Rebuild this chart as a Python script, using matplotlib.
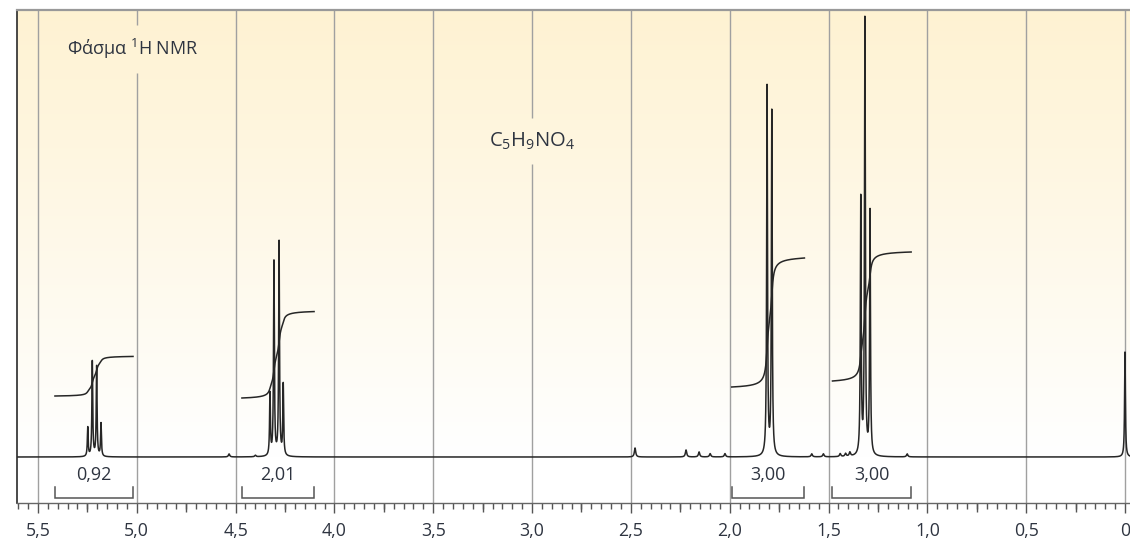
import numpy as np
import matplotlib
matplotlib.use("Agg")
import matplotlib.pyplot as plt
from matplotlib.ticker import MultipleLocator, FixedLocator, NullFormatter

# ---------------- data ----------------
# main resonances: chemical shift (ppm) and peak height (display units)
peak_ppm = [5.248, 5.225, 5.203, 5.181,
            4.326, 4.306, 4.280, 4.259,
            1.811, 1.787,
            1.337, 1.316, 1.290,
            0.000]
peak_height = [29, 95, 90, 33,
               62, 194, 214, 71,
               369, 344,
               256, 435, 244,
               105]
# small impurity / noise peaks
minor_ppm = [4.533, 4.40, 2.479, 2.221, 2.155, 2.099, 2.024,
             1.585, 1.526, 1.441, 1.414, 1.392, 1.102]
minor_height = [3, 1.5, 9, 7, 5, 3.3, 3.3, 3, 3, 3, 3, 4, 3]

integ_values = [0.92, 2.01, 3.00, 3.00]
integ_labels = ["0,92", "2,01", "3,00", "3,00"]
integ_left = [5.414, 4.468, 1.990, 1.480]
integ_right = [5.019, 4.103, 1.622, 1.082]
integ_offset = [61, 59, 70, 76]

tick_values = [5.5, 5.0, 4.5, 4.0, 3.5, 3.0, 2.5, 2.0, 1.5, 1.0, 0.5, 0.0]
tick_labels = ["5,5", "5,0", "4,5", "4,0", "3,5", "3,0", "2,5", "2,0",
               "1,5", "1,0", "0,5", "0"]
mid_ticks = [5.25, 4.75, 4.25, 3.75, 3.25, 2.75, 2.25, 1.75, 1.25, 0.75, 0.25]

title_text = "Φάσμα $^{\\mathregular{1}}$H NMR"
formula_text = "C$_{\\mathregular{5}}$H$_{\\mathregular{9}}$NO$_{\\mathregular{4}}$"

# ---------------- style ----------------
plt.rcParams["font.family"] = ["Open Sans", "DejaVu Sans"]
plt.rcParams["mathtext.fontset"] = "custom"
plt.rcParams["mathtext.rm"] = "Open Sans"
plt.rcParams["mathtext.it"] = "Open Sans:italic"
plt.rcParams["mathtext.bf"] = "Open Sans:bold"

TEXT = "#2e3440"
LINE = "#262626"
GRID = "#a0a0a0"
TOPCOL = np.array([254, 242, 210]) / 255.0
WHITE = np.array([1.0, 1.0, 1.0])

XL, XR = 5.606, -0.0253
YB, YT = -46, 447
GAMMA = 0.0025
GAMMA_MINOR = 0.004
GAMMA_INT = 0.0075
INT_SCALE = 43.0

fig = plt.figure(figsize=(11.3, 5.43), dpi=100)
ax = fig.add_axes([17 / 1130, 40 / 543, 1113 / 1130, 493 / 543])
ax.set_xlim(XL, XR)
ax.set_ylim(YB, YT)

# gradient background (white at baseline -> pale yellow at top)
n = 256
frac = np.linspace(0, 1, n)[:, None]
grad = WHITE[None, None, :] * (1 - frac[..., None]) + TOPCOL[None, None, :] * frac[..., None]
grad = np.repeat(grad, 2, axis=1)
ax.imshow(grad, extent=[XL, XR, 0, YT], origin="lower", aspect="auto",
          interpolation="bicubic", zorder=0)

# spectrum
x = np.linspace(XL, XR, 40000)


def lorentz(xv, centers, heights, g):
    out = np.zeros_like(xv)
    for c, h in zip(centers, heights):
        out += h * g ** 2 / (g ** 2 + (xv - c) ** 2)
    return out


spec = lorentz(x, peak_ppm, peak_height, GAMMA) + lorentz(x, minor_ppm, minor_height, GAMMA_MINOR)
ax.plot(x, spec, color=LINE, lw=1.1, zorder=3, solid_joinstyle="round")

# integrals and brackets
for val, lab, l, r, off in zip(integ_values, integ_labels, integ_left, integ_right, integ_offset):
    xi = np.linspace(l, r, 3000)
    si = lorentz(xi, peak_ppm, peak_height, GAMMA_INT)
    cum = np.concatenate([[0], np.cumsum(0.5 * (si[1:] + si[:-1]) * np.abs(np.diff(xi)))])
    cum = cum / cum[-1]
    ax.plot(xi, off + val * INT_SCALE * cum, color=LINE, lw=1.1, zorder=3)
    ax.plot([l, l, r, r], [-30, -41, -41, -30], color="#555555", lw=1.1, zorder=3,
            solid_joinstyle="miter")
    ax.text((l + r) / 2, -18, lab, ha="center", va="center", fontsize=13, color=TEXT, zorder=4)

# title & formula
t1 = ax.text(5.353, 408, title_text, ha="left", va="center", fontsize=13, color=TEXT, zorder=4)
t2 = ax.text(3.0, 316, formula_text, ha="center", va="center", fontsize=14.5, color=TEXT, zorder=4)

# grid lines, interrupted where they pass behind the two labels
fig.canvas.draw()
inv = ax.transData.inverted()
gaps = []
for t in (t1, t2):
    bb = t.get_window_extent()
    (x0, y0), (x1, y1) = inv.transform([[bb.x0, bb.y0 - 12], [bb.x1, bb.y1 + 12]])
    gaps.append((min(x0, x1), max(x0, x1), min(y0, y1), max(y0, y1)))
for tv in tick_values:
    segs = [(YB, YT)]
    for gx0, gx1, gy0, gy1 in gaps:
        if gx0 <= tv <= gx1:
            new = []
            for a, b in segs:
                if gy1 <= a or gy0 >= b:
                    new.append((a, b))
                else:
                    if gy0 > a:
                        new.append((a, gy0))
                    if gy1 < b:
                        new.append((gy1, b))
            segs = new
    for a, b in segs:
        ax.plot([tv, tv], [a, b], color=GRID, lw=1.0, zorder=1, solid_capstyle="butt")

# axes styling
ax.spines["right"].set_visible(False)
ax.spines["left"].set_color("#2a2a2a")
ax.spines["left"].set_linewidth(1.2)
ax.spines["top"].set_color("#999999")
ax.spines["top"].set_linewidth(1.6)
ax.spines["bottom"].set_color("#666666")
ax.spines["bottom"].set_linewidth(1.0)
for s in ax.spines.values():
    s.set_zorder(5)

ax.set_yticks([])
ax.xaxis.set_major_locator(FixedLocator(tick_values))
ax.set_xticklabels(tick_labels)
ax.xaxis.set_minor_locator(MultipleLocator(0.05))
ax.tick_params(axis="x", which="major", direction="out", length=7.5, width=1.0,
               color="#555555", labelsize=12.8, labelcolor=TEXT, pad=6.5)
ax.tick_params(axis="x", which="minor", direction="out", length=4.5, width=1.0,
               color="#555555")

sec = ax.secondary_xaxis("bottom")
sec.xaxis.set_major_locator(FixedLocator(mid_ticks))
sec.xaxis.set_major_formatter(NullFormatter())
sec.tick_params(axis="x", which="major", direction="out", length=6.3, width=1.0, color="#555555")
sec.tick_params(axis="x", which="minor", length=0)
sec.spines["bottom"].set_visible(False)

fig.savefig("out.png", dpi=100, facecolor="white")
